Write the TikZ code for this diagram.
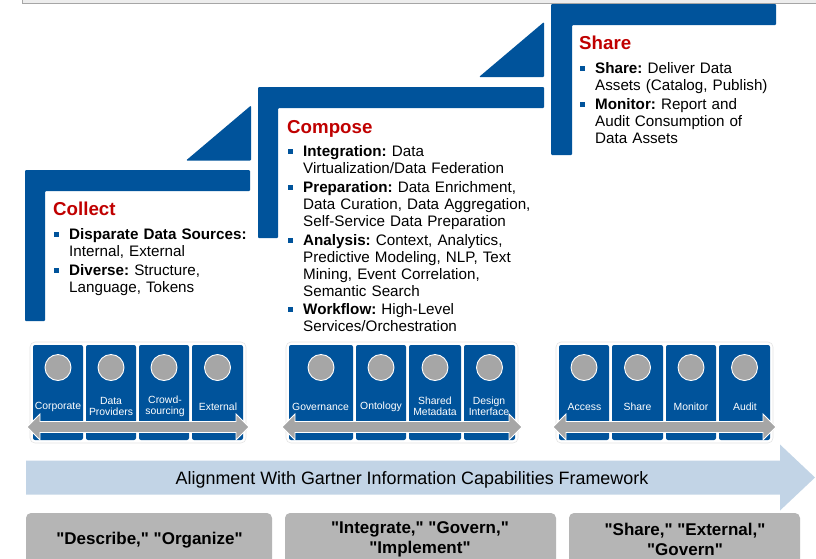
\documentclass[tikz,border=0pt]{standalone}
\usepackage{fontspec}
\setmainfont{Liberation Sans}
\newfontfamily\plainf{Liberation Sans}
\definecolor{bl}{HTML}{00539B}
\definecolor{rd}{HTML}{C00000}
\definecolor{gy}{HTML}{A6A6A6}
\definecolor{gb}{HTML}{B5B5B5}
\definecolor{lb}{HTML}{C2D4E6}
\tikzset{
 x=1pt,y=-1pt,
 bracket/.style={fill=bl,draw=none,rounded corners=1pt},
 heading/.style={anchor=base west,text=rd,font=\fontsize{18.7}{18}\selectfont\bfseries,inner sep=0pt},
 body/.style={anchor=north west,inner sep=0pt,text width=#1,align=left,font=\frenchspacing\fontsize{15.2}{17}\selectfont},
 bul/.style={fill=bl,draw=none,minimum size=5pt,inner sep=0pt},
 tile/.style={fill=bl,draw=none,rounded corners=2pt},
 tray/.style={fill=white,draw=black!10,line width=.6pt,rounded corners=5pt},
 disc/.style={circle,fill=gy,draw=white,line width=.9pt,minimum size=26pt,inner sep=0pt},
 tl/.style={text=white,font=\fontsize{10.4}{11}\selectfont,align=center,inner sep=0pt},
 dbl/.style={fill=gy,draw=white,line width=.8pt},
 pill/.style={fill=gb,draw=none,rounded corners=5pt},
 pilltext/.style={font=\plainf\fontsize{17}{20}\selectfont\bfseries,align=center,inner sep=0pt},
}
\newcommand{\tileat}[3]{%
 \fill[tile] (#1,345) rectangle (#2,440);
 \node[disc] (d#3) at ({(#1+#2)/2},367.5) {};
}
\begin{document}
\begin{tikzpicture}
\useasboundingbox (0,0) rectangle (816,558);
\fill[white] (0,0) rectangle (816,558);
% top frame
\fill[black!7] (22.5,0) rectangle (816,3.5);
\draw[black!35,line width=.8pt] (22.5,0) -- (22.5,3.5) -- (816,3.5);
% stairs
\path[bracket] (25,170) -- (250,170) -- (250,191) -- (45,191) -- (45,321) -- (25,321) -- cycle;
\path[bracket] (258,87) -- (544,87) -- (544,108) -- (278,108) -- (278,238) -- (258,238) -- cycle;
\path[bracket] (551,4) -- (776,4) -- (776,25) -- (572,25) -- (572,155) -- (551,155) -- cycle;
\path[bracket] (186,160.5) -- (251,105.5) -- (251,160.5) -- cycle;
\path[bracket] (479,77) -- (544,22) -- (544,77) -- cycle;
% Collect
\node[heading] (h1) at (53,215.5) {Collect};
\node[bul] (b11) at (56,234) {};
\node[body=190pt] (t11) at (69,228) {\textbf{Disparate Data Sources:}\\Internal, External};
\node[bul] (b12) at (56,270) {};
\node[body=190pt] (t12) at (69,264) {\textbf{Diverse:} Structure,\\Language, Tokens};
% Compose
\node[heading] (h2) at (287,133) {Compose};
\node[bul] (b21) at (290,151.5) {};
\node[body=250pt] (t21) at (303,145.5) {\textbf{Integration:} Data\\Virtualization/Data Federation};
\node[bul] (b22) at (290,187.5) {};
\node[body=250pt] (t22) at (303,181.5) {\textbf{Preparation:} Data Enrichment,\\Data Curation, Data Aggregation,\\Self-Service Data Preparation};
\node[bul] (b23) at (290,240.5) {};
\node[body=250pt] (t23) at (303,234.5) {\textbf{Analysis:} Context, Analytics,\\Predictive Modeling, NLP, Text\\Mining, Event Correlation,\\Semantic Search};
\node[bul] (b24) at (290,309) {};
\node[body=250pt] (t24) at (303,303) {\textbf{Workflow:} High-Level\\Services/Orchestration};
% Share
\node[heading] (h3) at (579,49.5) {Share};
\node[bul] (b31) at (582,68) {};
\node[body=195pt] (t31) at (595,62) {\textbf{Share:} Deliver Data\\Assets (Catalog, Publish)};
\node[bul] (b32) at (582,104) {};
\node[body=195pt] (t32) at (595,98) {\textbf{Monitor:} Report and\\Audit Consumption of\\Data Assets};
% tile groups
\draw[tray] (30,342) rectangle (246,443);
\tileat{33}{83}{a1}\tileat{86}{136}{a2}\tileat{139}{189}{a3}\tileat{192}{243}{a4}
\draw[tray] (286,342) rectangle (518,443);
\tileat{289}{353}{b1}\tileat{356}{406}{b2}\tileat{409}{461}{b3}\tileat{464}{515}{b4}
\draw[tray] (556,342) rectangle (773,443);
\tileat{559}{609}{c1}\tileat{612}{663}{c2}\tileat{666}{716}{c3}\tileat{719}{770}{c4}
% tile labels
\node[tl] at (58,406.5) {Corporate};
\node[tl] at (111,406.5) {Data\\Providers};
\node[tl] at (165,406.5) {Crowd-\\sourcing};
\node[tl] at (218,406.5) {External};
\node[tl] at (320.5,406.5) {Governance};
\node[tl] at (381,406.5) {Ontology};
\node[tl] at (435,406.5) {Shared\\Metadata};
\node[tl] at (489,406.5) {Design\\Interface};
\node[tl] at (584.5,406.5) {Access};
\node[tl] at (637.5,406.5) {Share};
\node[tl] at (691,406.5) {Monitor};
\node[tl] at (745,406.5) {Audit};
% double arrows
\path[dbl] (27,427) -- (40,414) -- (40,421.5) -- (236,421.5) -- (236,414) -- (249,427) -- (236,440) -- (236,432.5) -- (40,432.5) -- (40,440) -- cycle;
\path[dbl] (282,427) -- (295,414) -- (295,421.5) -- (509,421.5) -- (509,414) -- (522,427) -- (509,440) -- (509,432.5) -- (295,432.5) -- (295,440) -- cycle;
\path[dbl] (553,427) -- (566,414) -- (566,421.5) -- (763,421.5) -- (763,414) -- (776,427) -- (763,440) -- (763,432.5) -- (566,432.5) -- (566,440) -- cycle;
% big arrow
\path[fill=lb,draw=none] (26,460.5) -- (780,460.5) -- (780,444.5) -- (815,477.5) -- (780,510.5) -- (780,494.5) -- (26,494.5) -- cycle;
\node[font=\fontsize{17.9}{20}\selectfont,inner sep=0pt] (al) at (412,479.5) {Alignment With Gartner Information Capabilities Framework};
% pills
\path[pill] (26,513) rectangle (272,566);
\path[pill] (285,513) rectangle (556,566);
\path[pill] (569,513) rectangle (800,566);
\node[pilltext] (p1) at (149.5,540.5) {"Describe," "Organize"};
\node[pilltext] (p2) at (420,539) {"Integrate," "Govern,"\\"Implement"};
\node[pilltext] (p3) at (685,539) {"Share," "External,"\\"Govern"};
\end{tikzpicture}
\end{document}
